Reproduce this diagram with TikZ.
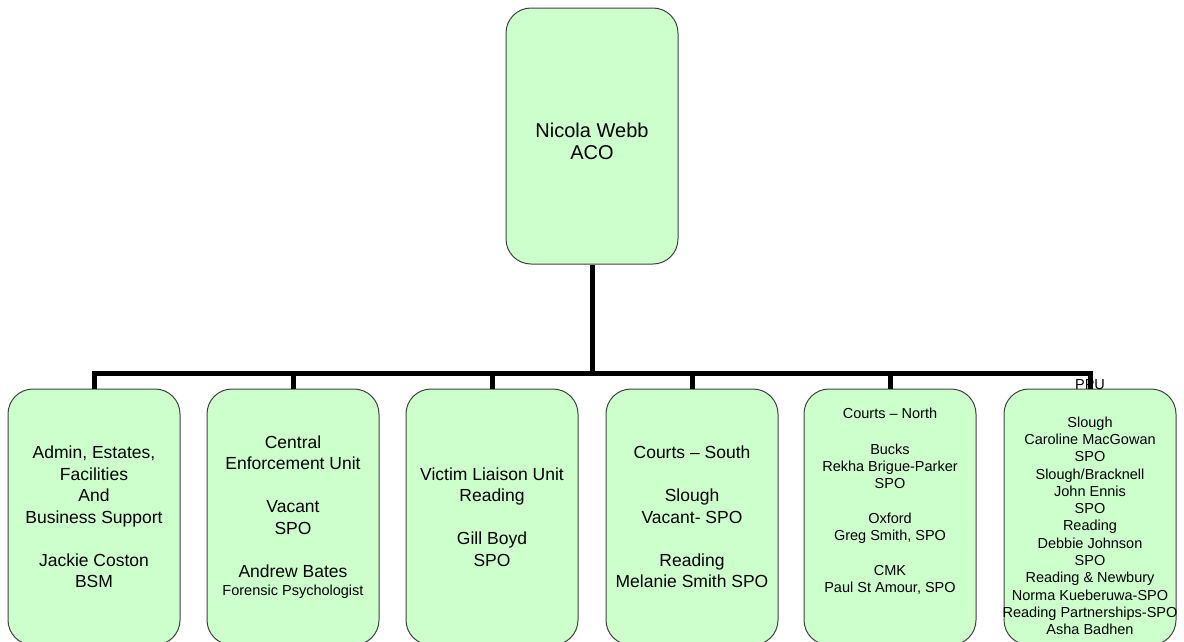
\documentclass[tikz,border=0pt]{standalone}
\usepackage{fontspec}
\setmainfont{Liberation Sans}
\usepackage{tikz}
\usetikzlibrary{calc}
\definecolor{boxgreen}{RGB}{204,255,204}
\definecolor{boxline}{RGB}{64,64,64}

\begin{document}
\begin{tikzpicture}[x=1pt,y=-1pt,
    box/.style={draw=boxline,line width=1pt,fill=boxgreen,rounded corners=25pt,
        minimum width=172pt,minimum height=256pt,inner sep=0pt},
    txt/.style={align=center,inner sep=0pt,text=black},
    big/.style={font=\fontsize{17.5}{21.5}\selectfont},
    small/.style={font=\fontsize{14.5}{17.3}\selectfont},
    link/.style={line width=5pt,line join=miter}]
    \useasboundingbox (0,0) rectangle (1184,641);
    \clip (0,0) rectangle (1184,641);

    %boxes
    \node[box] (aco) at (592,136) {};
    \node[box] (admin) at (94,517) {};
    \node[box] (ceu) at (293,517) {};
    \node[box] (vlu) at (492,517) {};
    \node[box] (south) at (692,517) {};
    \node[box] (north) at (890,517) {};
    \node[box] (ppu) at (1090,517) {};

    %lines
    \coordinate (bus) at (0,373);
    \draw[link] (aco.south) -- (aco.south |- bus);
    \draw[link] (admin.north) -- (admin.north |- bus) -- (ppu.north |- bus) -- (ppu.north);
    \draw[link] (ceu.north) -- (ceu.north |- bus);
    \draw[link] (vlu.north) -- (vlu.north |- bus);
    \draw[link] (south.north) -- (south.north |- bus);
    \draw[link] (north.north) -- (north.north |- bus);

    %texts
    \node[txt,font=\fontsize{20}{22}\selectfont,yshift=-5pt] (aco-t) at (aco) {Nicola Webb\\ACO};
    \node[txt,big] (admin-t) at (admin) {Admin, Estates,\\Facilities\\And\\Business Support\\[21.5pt]Jackie Coston\\BSM};
    \node[txt,big] (ceu-t) at (ceu) {Central\\Enforcement Unit\\[21.5pt]Vacant\\SPO\\[21.5pt]Andrew Bates\\[-3.5pt]{\fontsize{14.5}{17}\selectfont Forensic Psychologist}};
    \node[txt,big] (vlu-t) at (vlu) {Victim Liaison Unit\\Reading\\[21.5pt]Gill Boyd\\SPO};
    \node[txt,big] (south-t) at (south) {Courts – South\\[21.5pt]Slough\\Vacant- SPO\\[21.5pt]Reading\\Melanie Smith SPO};
    \node[txt,small,yshift=16pt] (north-t) at (north) {Courts – North\\[18.5pt]Bucks\\Rekha Brigue-Parker\\SPO\\[17.3pt]Oxford\\Greg Smith, SPO\\[17.3pt]CMK\\Paul St Amour, SPO};
    \node[txt,small,yshift=10pt] (ppu-t) at (ppu) {PPU\\[20.7pt]Slough\\Caroline MacGowan\\SPO\\Slough/Bracknell\\John Ennis\\SPO\\Reading\\Debbie Johnson\\SPO\\Reading \& Newbury\\Norma Kueberuwa-SPO\\Reading Partnerships-SPO\\Asha Badhen};
\end{tikzpicture}
\end{document}
